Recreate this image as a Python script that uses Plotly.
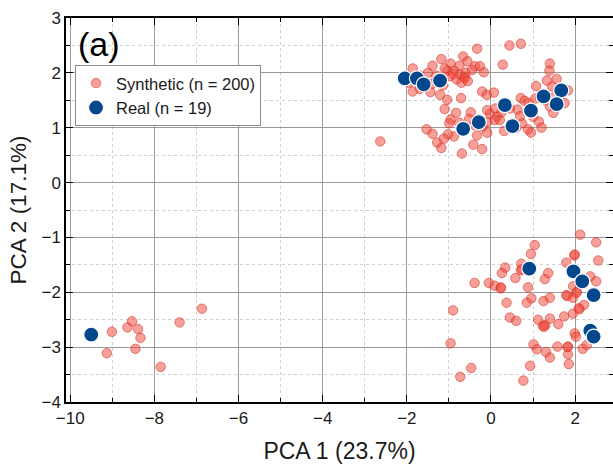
import plotly.graph_objects as go

# ---- PCA scores: synthetic samples, grouped by cluster ----
syn_left_x = [-9.01, -8.53, -8.64, -8.39, -8.33, -8.45, -9.13, -7.85, -7.40, -6.87]
syn_left_y = [-2.72, -2.53, -2.64, -2.67, -2.83, -3.03, -3.11, -3.36, -2.55, -2.30]

syn_stray_x = [-2.63]
syn_stray_y = [0.75]

syn_top_x = [
    -0.33, 0.44, 0.71, 0.28, 1.40, 1.39, -1.86, -1.39, -1.18, -0.96,
    -0.66, -0.56, -0.75, -0.38, -0.26, -0.17, -1.04, -0.88, -0.82, -0.64,
    -0.74, -0.98, -0.60, -1.14, -1.44, -1.86, -1.69, -1.21, -1.04, -0.71,
    -0.21, -0.10, 0.07, -1.10, -0.83, -0.48, -0.09, -0.02, 0.14, -0.96,
    -0.99, -0.75, -0.52, -0.09, 0.09, 0.21, -1.53, -1.39, -0.88, -1.02,
    -1.28, -1.18, -1.12, -0.33, -0.09, -0.42, -0.21, -0.69, 0.31, 0.74,
    0.88, 0.95, 1.14, 1.20, 0.71, 0.80, 0.63, 1.07, 1.33, 1.56,
    1.17, 1.05, 1.40, 1.48, 1.83, 0.90, 0.69, -0.62, -0.70, -0.55,
    -0.90, -1.10, -0.45, 1.30, 1.20, 1.50, 1.45, -1.95, -1.70, -1.40,
    -1.30, 0.45, 0.25, -0.40, -0.20, 0.60, 1.00, -1.50, 1.75, 0.10,
    -2.03, -1.74, -1.22, -0.64, -0.30, 0.35, 0.50, 0.97, 1.27, 1.65,
]
syn_top_y = [
    2.44, 2.50, 2.53, 2.15, 2.17, 2.04, 2.08, 2.13, 2.25, 2.17,
    2.30, 2.21, 2.13, 2.12, 2.12, 2.01, 2.04, 2.04, 1.88, 1.93,
    1.97, 1.94, 2.00, 1.77, 1.65, 1.66, 1.71, 1.60, 1.51, 1.54,
    1.66, 1.60, 1.64, 1.34, 1.27, 1.28, 1.32, 1.25, 1.20, 1.15,
    1.08, 1.09, 1.16, 1.10, 1.14, 1.14, 0.97, 0.89, 0.84, 0.88,
    0.73, 0.63, 0.80, 0.86, 0.91, 0.69, 0.61, 0.53, 0.94, 1.08,
    0.97, 0.91, 1.11, 1.00, 1.54, 1.49, 1.33, 1.76, 1.86, 1.89,
    1.54, 1.53, 1.39, 1.27, 1.68, 1.45, 1.21, 1.90, 1.82, 1.85,
    1.98, 2.08, 2.05, 1.50, 1.62, 1.55, 1.75, 1.82, 1.95, 1.80,
    1.95, 1.35, 1.28, 1.05, 1.02, 1.00, 1.20, 2.00, 1.45, 1.35,
    1.88, 1.92, 1.84, 1.00, 1.12, 1.39, 1.05, 1.29, 1.55, 1.66,
]

syn_bottom_x = [
    2.12, 2.50, 2.55, 1.04, 0.95, 0.72, 0.34, 0.26, 0.71, 1.36,
    1.28, 0.58, -0.39, -0.05, 0.09, 0.23, 0.88, 1.79, 1.98, 1.99,
    2.36, 2.50, 1.95, 2.04, 1.79, 1.95, 0.96, 0.85, 1.25, 1.40,
    0.37, -0.90, 0.45, 0.60, 1.12, 1.40, 1.23, 1.29, 1.60, 1.74,
    1.95, 2.09, 2.21, 1.99, 2.02, -0.96, 1.01, 1.09, 1.31, 1.40,
    1.58, 1.83, 1.83, 1.85, 2.18, 2.28, 0.93, -0.47, 0.77, -0.73,
    0.93, 0.89, 1.97, 1.94, 2.19, 2.15, 2.46, 2.42, 2.38, 2.34,
    2.46, 2.42, 2.03, 1.81, 1.26, 0.74, 2.10, 1.82, 0.24,
]
syn_bottom_y = [
    -0.95, -1.09, -1.42, -1.14, -1.30, -1.48, -1.55, -1.65, -1.60, -1.65,
    -1.76, -1.74, -1.83, -1.83, -1.88, -1.93, -1.91, -1.46, -1.33, -1.31,
    -1.71, -1.80, -1.89, -1.99, -2.05, -2.10, -2.11, -2.19, -2.16, -2.10,
    -2.19, -2.33, -2.46, -2.52, -2.50, -2.48, -2.61, -2.60, -2.58, -2.44,
    -2.39, -2.29, -2.23, -2.75, -2.81, -2.93, -2.95, -3.04, -3.09, -3.19,
    -2.99, -2.99, -3.13, -3.31, -3.03, -2.96, -3.34, -3.38, -3.61, -3.54,
    -1.60, -1.55, -1.64, -1.60, -1.82, -1.78, -2.07, -2.03, -2.72, -2.68,
    -2.83, -2.79, -2.01, -2.07, -2.63, -1.58, -2.31, -3.00, -1.91,
]

# ---- PCA scores: real samples ----
real_x = [-2.05, -1.76, -1.60, -1.21, -0.66, -0.29, 0.33, 0.51, 0.95, 1.25,
          1.67, 1.56, -9.50, 0.91, 1.96, 2.17, 2.44, 2.36, 2.44]
real_y = [1.90, 1.90, 1.79, 1.86, 0.98, 1.10, 1.41, 1.03, 1.31, 1.57,
          1.68, 1.43, -2.77, -1.57, -1.62, -1.80, -2.05, -2.70, -2.81]

x_title = "PCA 1 (23.7%)"
y_title = "PCA 2 (17.1%)"
panel_label = "(a)"

syn_x = syn_left_x + syn_stray_x + syn_top_x + syn_bottom_x
syn_y = syn_left_y + syn_stray_y + syn_top_y + syn_bottom_y

FONT = "Arial, Liberation Sans, sans-serif"

fig = go.Figure()
fig.add_trace(go.Scatter(
    x=syn_x, y=syn_y, mode="markers",
    name=f"Synthetic (n = {len(syn_x)})",
    marker=dict(size=9.5, color="rgba(240,72,60,0.52)",
                line=dict(color="rgba(214,45,35,0.55)", width=1)),
))
fig.add_trace(go.Scatter(
    x=real_x, y=real_y, mode="markers",
    name=f"Real (n = {len(real_x)})",
    marker=dict(size=15, color="#03478D",
                line=dict(color="white", width=1.2)),
))

axis_common = dict(
    showline=True, linecolor="black", linewidth=1.5, mirror="ticks",
    ticks="inside", ticklen=7, tickwidth=1.3, tickcolor="black",
    showgrid=True, gridcolor="#9a9a9a", gridwidth=1, zeroline=False,
    tickfont=dict(family=FONT, size=17, color="#1a1a1a"),
)
minor_grid = dict(ticks="inside", ticklen=4, tickcolor="black",
                  showgrid=True, gridcolor="#cfcfcf", griddash="3px,3px", gridwidth=1)

fig.update_xaxes(
    range=[-10.1, 2.9], tickmode="linear", tick0=-10, dtick=2,
    minor=dict(dtick=1, tick0=-10, **minor_grid),
    title=dict(text=x_title, font=dict(family=FONT, size=23, color="#1a1a1a"), standoff=17),
    **axis_common,
)
fig.update_yaxes(
    range=[-4, 3], tickmode="linear", tick0=-4, dtick=1,
    minor=dict(dtick=0.5, tick0=-4, **minor_grid),
    title=dict(text=y_title, font=dict(family=FONT, size=22.5, color="#1a1a1a"), standoff=9),
    **axis_common,
)

fig.add_annotation(
    text=panel_label, xref="paper", yref="paper", x=0.061, y=0.932,
    xanchor="center", yanchor="middle", showarrow=False,
    font=dict(family=FONT, size=34, color="black"),
)

fig.update_layout(
    width=613, height=464,
    margin=dict(l=66, r=0, t=18, b=62, autoexpand=False),
    paper_bgcolor="white", plot_bgcolor="white",
    font=dict(family=FONT, color="#1a1a1a"),
    legend=dict(
        x=0.0165, y=0.878, xanchor="left", yanchor="top",
        bgcolor="white", bordercolor="#8c8c8c", borderwidth=1,
        font=dict(family=FONT, size=16.5, color="#1a1a1a"),
        tracegroupgap=0, itemsizing="trace",
    ),
    showlegend=True,
)

fig.write_html("out.html")
